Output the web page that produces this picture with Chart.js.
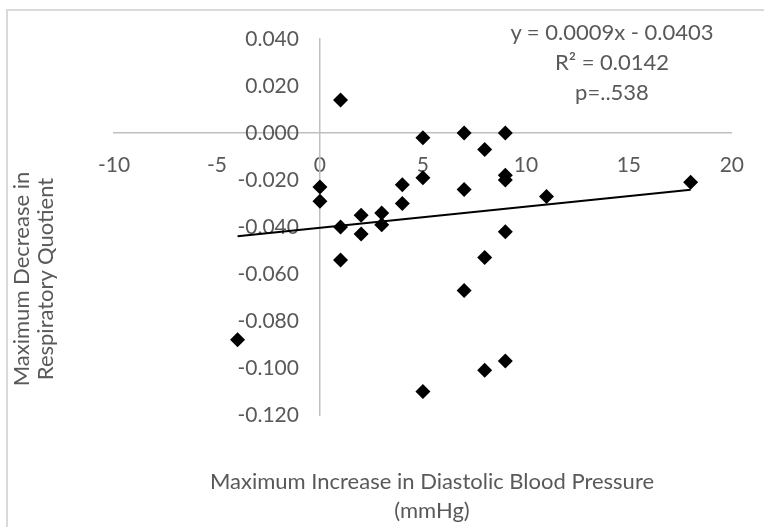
<!DOCTYPE html>
<html lang="en">

<head>
    <meta charset="UTF-8">
    <title>Respiratory Quotient vs Diastolic Blood Pressure</title>
    <style>
        body {
            margin: 0;
            background: #fff;
            font-family: Lato, sans-serif;
        }

        .wrap {
            position: relative;
            width: 764px;
            height: 527px;
            overflow: hidden;
        }

        .frame {
            position: absolute;
            left: 6px;
            top: 9px;
            width: 800px;
            height: 560px;
            border: 2px solid #d9d9d9;
        }

        canvas {
            position: absolute;
            left: 0;
            top: 0;
        }

        .txt {
            position: absolute;
            color: #595959;
            text-align: center;
            white-space: nowrap;
        }

        .eq {
            left: 462px;
            top: 17px;
            width: 300px;
            font-size: 22px;
            line-height: 30px;
        }

        .xtitle {
            left: 132px;
            top: 466px;
            width: 600px;
            font-size: 22px;
            line-height: 29px;
        }

        .ytitle {
            left: 33px;
            top: 279px;
            width: 300px;
            font-size: 22px;
            line-height: 24px;
            transform: translate(-50%, -50%) rotate(-90deg);
        }
    </style>
</head>

<body>
    <div class="wrap">
        <div class="frame"></div>
        <canvas id="myChart" width="764" height="527"></canvas>
        <div class="txt eq">y = 0.0009x - 0.0403<br>R² = 0.0142<br>p=..538</div>
        <div class="txt xtitle">Maximum Increase in Diastolic Blood Pressure<br>(mmHg)</div>
        <div class="txt ytitle">Maximum Decrease in<br>Respiratory Quotient</div>
    </div>

    <script src="https://cdn.jsdelivr.net/npm/chart.js"></script>
    <script>
        // data
        const bpIncrease = [1, 0, 0, 1, 1, 2, 2, 3, 3, 4, 4, 5, 5, 5, 7, 7, 7, 8, 8, 8, 9, 9, 9, 9, 9, 11, 18, -4];
        const rqDecrease = [0.014, -0.023, -0.029, -0.040, -0.054, -0.035, -0.043, -0.034, -0.039, -0.022, -0.030,
            -0.002, -0.019, -0.110, 0.000, -0.024, -0.067, -0.007, -0.053, -0.101, 0.000, -0.018, -0.020, -0.042,
            -0.097, -0.027, -0.021, -0.088];

        // linear trendline end points (x from -4 to 18)
        const trendX = [-4, 18];
        const trendY = [-0.0439, -0.0241];

        const xTicks = [-10, -5, 0, 5, 10, 15, 20];
        const yTicks = [0.04, 0.02, 0, -0.02, -0.04, -0.06, -0.08, -0.1, -0.12];

        const points = bpIncrease.map((x, i) => ({ x: x, y: rqDecrease[i] }));
        const trend = trendX.map((x, i) => ({ x: x, y: trendY[i] }));

        const tickFont = { family: 'Lato', size: 21 };

        const ctx = document.getElementById('myChart').getContext('2d');
        const myChart = new Chart(ctx, {
            type: 'scatter',
            data: {
                datasets: [{
                    data: points,
                    pointStyle: 'rectRot',
                    pointRadius: 7.5,
                    backgroundColor: '#000',
                    borderColor: '#000',
                    borderWidth: 0
                }, {
                    data: trend,
                    showLine: true,
                    borderColor: '#000',
                    borderWidth: 2,
                    pointRadius: 0
                }]
            },
            options: {
                responsive: false,
                animation: false,
                layout: {
                    padding: { left: 114, right: 29, top: 39, bottom: 112 }
                },
                plugins: {
                    legend: { display: false },
                    tooltip: { enabled: false }
                },
                scales: {
                    x: {
                        type: 'linear',
                        position: { y: 0 },
                        min: -10,
                        max: 20,
                        afterBuildTicks: axis => { axis.ticks = xTicks.map(v => ({ value: v })); },
                        grid: { display: false, drawTicks: false },
                        border: { display: true, color: '#bfbfbf', width: 1.5 },
                        ticks: { color: '#595959', font: tickFont, padding: 20 }
                    },
                    y: {
                        type: 'linear',
                        position: { x: 0 },
                        min: -0.12,
                        max: 0.04,
                        afterBuildTicks: axis => { axis.ticks = yTicks.map(v => ({ value: v })); },
                        grid: { display: false, drawTicks: false },
                        border: { display: true, color: '#bfbfbf', width: 1.5 },
                        ticks: {
                            color: '#595959',
                            font: tickFont,
                            // positioned axis ignores padding, so keep the gap with trailing spaces
                            callback: v => v.toFixed(3) + '\u2002\u2002'
                        }
                    }
                }
            }
        });
    </script>
</body>

</html>
